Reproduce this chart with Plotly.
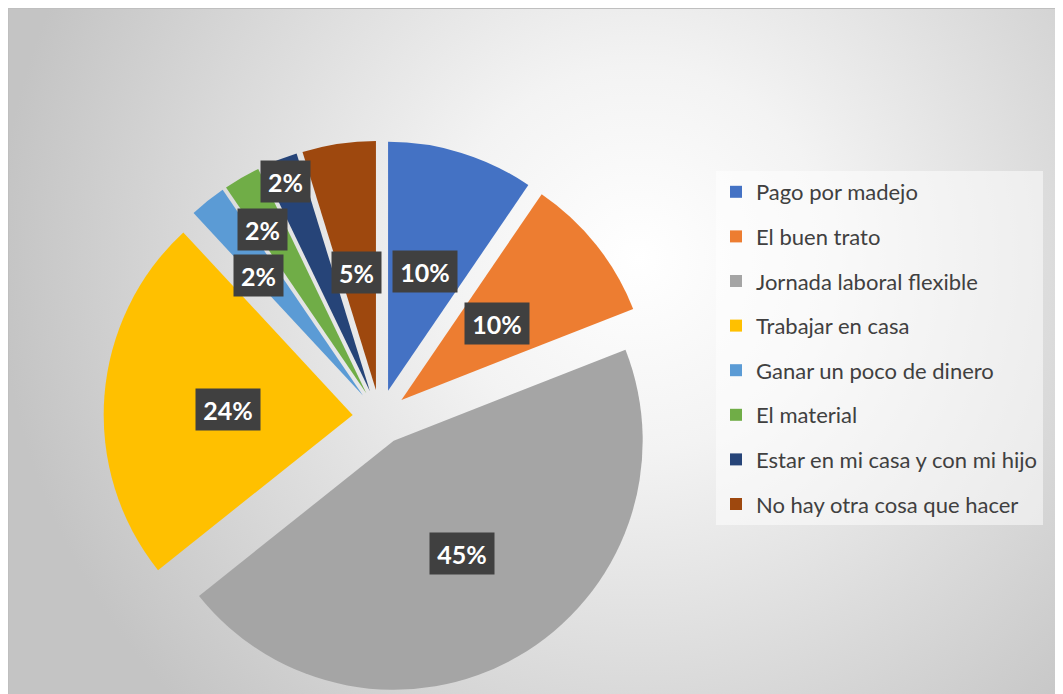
import base64
import math

import plotly.graph_objects as go

W, H = 1063, 694
OFF = 8  # the page puts the figure 8px in from the top-left corner

labels = [
    "Pago por madejo",
    "El buen trato",
    "Jornada laboral flexible",
    "Trabajar en casa",
    "Ganar un poco de dinero",
    "El material",
    "Estar en mi casa y con mi hijo",
    "No hay otra cosa que hacer",
]
counts = [4, 4, 19, 10, 1, 1, 1, 2]
colors = ["#4472C4", "#ED7D31", "#A5A5A5", "#FFC000", "#5B9BD5", "#70AD47", "#264478", "#9E480E"]

# where each percentage box sits: fraction of radius, small angle nudge (deg)
label_r = [0.5, 0.49, 0.53, 0.5, 0.64, 0.78, 0.91, 0.48]
label_nudge = [0, 0, -1, -2, -2.6, -2.3, -0.6, -1]

cx, cy, R, pull = 380 - OFF, 417 - OFF, 249, 0.11
half = R * (1 + pull)

# soft radial background like the office chart style
bw, bh = 1056, 688
svg = (
    f'<svg xmlns="http://www.w3.org/2000/svg" width="{bw}" height="{bh}">'
    '<defs><radialGradient id="g" gradientUnits="userSpaceOnUse" cx="630" cy="250" r="640">'
    '<stop offset="0" stop-color="#ffffff"/><stop offset="0.3" stop-color="#f3f3f3"/>'
    '<stop offset="1" stop-color="#c4c4c4"/></radialGradient></defs>'
    f'<rect width="{bw}" height="{bh}" fill="url(#g)"/></svg>'
)
bg_src = "data:image/svg+xml;base64," + base64.b64encode(svg.encode()).decode()

fig = go.Figure()
fig.add_trace(
    go.Pie(
        labels=labels,
        values=counts,
        sort=False,
        direction="clockwise",
        rotation=0,
        pull=pull,
        marker={"colors": colors, "line": {"width": 0}},
        textinfo="none",
        showlegend=False,
        domain={"x": [(cx - half) / W, (cx + half) / W], "y": [1 - (cy + half) / H, 1 - (cy - half) / H]},
    )
)

# legend entries with the roomy spacing of the original
for lab, col in zip(labels, colors):
    fig.add_trace(
        go.Scatter(
            x=[None],
            y=[None],
            mode="markers",
            name=lab,
            legendgroup=lab,
            marker={"symbol": "square", "size": 12, "color": col},
        )
    )

total = sum(counts)
cum = 0
annotations = []
for v, fr, nd in zip(counts, label_r, label_nudge):
    mid = math.radians((cum + v / 2) / total * 360)
    cum += v
    pcx = cx + pull * R * math.sin(mid)
    pcy = cy - pull * R * math.cos(mid)
    a = mid + math.radians(nd)
    px = pcx + fr * R * math.sin(a)
    py = pcy - fr * R * math.cos(a)
    txt = f"{round(100 * v / total)}%"
    annotations.append(
        {
            "x": px / W,
            "y": 1 - py / H,
            "xref": "paper",
            "yref": "paper",
            "text": txt,
            "showarrow": False,
            "font": {"family": "Lato, Open Sans, sans-serif", "size": 25, "color": "white", "weight": "bold"},
            "bgcolor": "#404040",
            "borderpad": 6,
            "width": 15 * len(txt) + 7,
            "height": 29,
            "xanchor": "center",
            "yanchor": "middle",
        }
    )

fig.update_layout(
    width=W,
    height=H,
    margin={"l": 0, "r": 0, "t": 0, "b": 0},
    paper_bgcolor="white",
    plot_bgcolor="rgba(0,0,0,0)",
    xaxis={"visible": False},
    yaxis={"visible": False},
    annotations=annotations,
    images=[
        {
            "source": bg_src,
            "xref": "paper",
            "yref": "paper",
            "x": 0,
            "y": 1,
            "sizex": bw / W,
            "sizey": bh / H,
            "sizing": "stretch",
            "xanchor": "left",
            "yanchor": "top",
            "layer": "below",
        }
    ],
    shapes=[
        {
            "type": "rect",
            "xref": "paper",
            "yref": "paper",
            "x0": 0,
            "x1": 1.01,
            "y0": -0.01,
            "y1": 1,
            "line": {"color": "#BFBFBF", "width": 2},
            "fillcolor": "rgba(0,0,0,0)",
        }
    ],
    legend={
        "x": (716 - OFF) / W,
        "y": 1 - (171 - OFF) / H,
        "xanchor": "left",
        "yanchor": "top",
        "bgcolor": "rgba(255,255,255,0.5)",
        "font": {"family": "Lato, Open Sans, sans-serif", "size": 22, "color": "#404040"},
        "tracegroupgap": 13,
        "entrywidth": 292,
    },
)

fig.write_html("out.html")
